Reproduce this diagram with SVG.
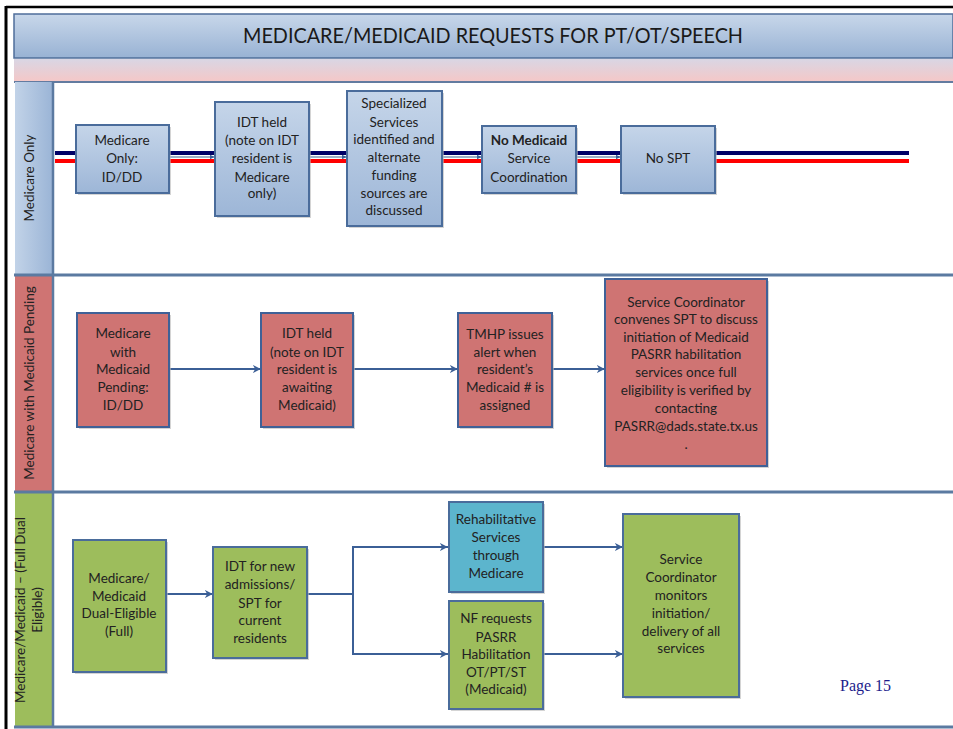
<svg xmlns="http://www.w3.org/2000/svg" width="953" height="729" viewBox="0 0 953 729">
<defs>
<linearGradient id="gTitle" x1="0" y1="0" x2="0" y2="1"><stop offset="0" stop-color="#c8d7ea"/><stop offset="1" stop-color="#98b2d4"/></linearGradient>
<linearGradient id="gPink" x1="0" y1="0" x2="0" y2="1"><stop offset="0" stop-color="#d9d6e4"/><stop offset="1" stop-color="#f4c8c8"/></linearGradient>
<linearGradient id="gBlueBox" x1="0" y1="0" x2="0" y2="1"><stop offset="0" stop-color="#c5d5e9"/><stop offset="1" stop-color="#9db6d7"/></linearGradient>
<linearGradient id="gHead1" x1="0" y1="0" x2="1" y2="0"><stop offset="0" stop-color="#c2d3e8"/><stop offset="1" stop-color="#9ab4d6"/></linearGradient>
<marker id="ah" viewBox="0 0 10 10" refX="9" refY="5" markerWidth="5" markerHeight="5" orient="auto" markerUnits="userSpaceOnUse"><path d="M0,0 L10,5 L0,10 z" fill="#3b5f96"/></marker>
<marker id="ah2" viewBox="0 0 10 10" refX="9" refY="5" markerWidth="8" markerHeight="8" orient="auto" markerUnits="userSpaceOnUse"><path d="M0,0 L10,5 L0,10 L3,5 z" fill="#3b5f96"/></marker>
</defs>
<style>
.t{font-family:Lato,"Open Sans","Liberation Sans",sans-serif;font-size:13.5px;fill:#222;text-anchor:middle}
.hd{font-family:Lato,"Open Sans","Liberation Sans",sans-serif;font-size:13.5px;fill:#222;text-anchor:middle}
.b1{fill:url(#gBlueBox);stroke:#4a6c9b;stroke-width:2}
.b2{fill:#cf7473;stroke:#3f6197;stroke-width:2}
.b3{fill:#9dbd5c;stroke:#4a6c9b;stroke-width:2}
.b4{fill:#5cb5cd;stroke:#4a6c9b;stroke-width:2}
.sh{fill:#b8b8b8;opacity:0.6}
.sep{stroke:#5b7aa1;stroke-width:3}
.c{stroke:#3b5f96;stroke-width:2;fill:none}
.c1{stroke:#9fb0c6;stroke-width:2;fill:none}
</style>
<rect x="0" y="0" width="953" height="729" fill="#ffffff"/>
<!-- outer border -->
<line x1="6" y1="7" x2="953" y2="7" stroke="#000" stroke-width="2.5"/>
<line x1="6" y1="6" x2="6" y2="729" stroke="#000" stroke-width="3"/>
<!-- title -->
<g id="title">
<rect x="14" y="14" width="939" height="44" fill="url(#gTitle)" stroke="#4f6e9a" stroke-width="1.5"/>
<text x="493" y="43" font-family="Lato,'Open Sans','Liberation Sans',sans-serif" font-size="21" fill="#1a1a1a" text-anchor="middle" textLength="500" lengthAdjust="spacingAndGlyphs">MEDICARE/MEDICAID REQUESTS FOR PT/OT/SPEECH</text>
</g>
<rect x="14" y="59" width="939" height="22" fill="url(#gPink)"/>
<line x1="14" y1="82" x2="953" y2="82" stroke="#2f4f80" stroke-width="1.5"/>
<!-- lanes -->
<g id="lane1">
<rect x="15" y="82" width="38" height="193" fill="url(#gHead1)"/>
<text class="hd" transform="translate(34,178) rotate(-90)">Medicare Only</text>
</g>
<g id="lane2">
<rect x="15" y="276" width="38" height="216" fill="#cf7473"/>
<text class="hd" transform="translate(34,383) rotate(-90)">Medicare with Medicaid Pending</text>
</g>
<g id="lane3">
<rect x="15" y="493" width="38" height="234" fill="#9dbd5c"/>
<text class="hd" transform="translate(30,610) rotate(-90)"><tspan x="0" y="-5">Medicare/Medicaid – (Full Dual</tspan><tspan x="0" y="12">Eligible)</tspan></text>
</g>
<line x1="53" y1="82" x2="53" y2="727" stroke="#5b7aa1" stroke-width="2.5"/>
<line class="sep" x1="14" y1="275" x2="953" y2="275"/>
<line class="sep" x1="14" y1="492" x2="953" y2="492"/>
<line class="sep" x1="14" y1="727" x2="953" y2="727"/>
<!-- lane 1 background lines -->
<line x1="55" y1="153" x2="909" y2="153" stroke="#000066" stroke-width="4"/>
<line x1="55" y1="161" x2="909" y2="161" stroke="#ff0000" stroke-width="4"/>
<!-- connectors -->
<g id="connectors">
<line class="c1" x1="169" y1="157" x2="214" y2="157" marker-end="url(#ah)"/>
<line class="c1" x1="309" y1="157" x2="346" y2="157" marker-end="url(#ah)"/>
<line class="c1" x1="442" y1="157" x2="481" y2="157" marker-end="url(#ah)"/>
<line class="c1" x1="576" y1="157" x2="620" y2="157" marker-end="url(#ah)"/>
<line class="c" x1="169" y1="369" x2="260" y2="369" marker-end="url(#ah2)"/>
<line class="c" x1="353" y1="369" x2="457" y2="369" marker-end="url(#ah2)"/>
<line class="c" x1="552" y1="369" x2="604" y2="369" marker-end="url(#ah2)"/>
<line class="c" x1="166" y1="594" x2="212" y2="594" marker-end="url(#ah2)"/>
<polyline class="c" points="307,594 353,594"/>
<polyline class="c" points="448,547 353,547 353,654 448,654"/>
<line class="c" x1="353" y1="547" x2="447" y2="547" marker-end="url(#ah2)"/>
<line class="c" x1="353" y1="654" x2="447" y2="654" marker-end="url(#ah2)"/>
<line class="c" x1="543" y1="547" x2="622" y2="547" marker-end="url(#ah2)"/>
<line class="c" x1="543" y1="654" x2="622" y2="654" marker-end="url(#ah2)"/>
</g>
<!-- lane 1 nodes -->
<g id="n1">
<rect class="sh" x="78" y="127" width="93" height="68"/>
<rect class="b1" x="76" y="125" width="93" height="68"/>
<text class="t"><tspan x="122" y="145">Medicare</tspan><tspan x="122" y="163">Only:</tspan><tspan x="122" y="182">ID/DD</tspan></text>
</g>
<g id="n2">
<rect class="sh" x="217" y="104" width="94" height="114"/>
<rect class="b1" x="215" y="102" width="94" height="114"/>
<text class="t"><tspan x="262" y="127">IDT held</tspan><tspan x="262" y="145">(note on IDT</tspan><tspan x="262" y="163">resident is</tspan><tspan x="262" y="182">Medicare</tspan><tspan x="262" y="198">only)</tspan></text>
</g>
<g id="n3">
<rect class="sh" x="349" y="93" width="95" height="135"/>
<rect class="b1" x="347" y="91" width="95" height="135"/>
<text class="t"><tspan x="394" y="108">Specialized</tspan><tspan x="394" y="127">Services</tspan><tspan x="394" y="144">identified and</tspan><tspan x="394" y="162">alternate</tspan><tspan x="394" y="180">funding</tspan><tspan x="394" y="198">sources are</tspan><tspan x="394" y="215">discussed</tspan></text>
</g>
<g id="n4">
<rect class="sh" x="484" y="128" width="94" height="67"/>
<rect class="b1" x="482" y="126" width="94" height="67"/>
<text class="t"><tspan x="529" y="145" font-weight="bold">No Medicaid</tspan><tspan x="529" y="163">Service</tspan><tspan x="529" y="182">Coordination</tspan></text>
</g>
<g id="n5">
<rect class="sh" x="623" y="128" width="94" height="67"/>
<rect class="b1" x="621" y="126" width="94" height="67"/>
<text class="t" x="668" y="163">No SPT</text>
</g>
<!-- lane 2 nodes -->
<g id="n6">
<rect class="sh" x="79" y="315" width="92" height="114"/>
<rect class="b2" x="77" y="313" width="92" height="114"/>
<text class="t"><tspan x="123" y="338">Medicare</tspan><tspan x="123" y="357">with</tspan><tspan x="123" y="374">Medicaid</tspan><tspan x="123" y="392">Pending:</tspan><tspan x="123" y="410">ID/DD</tspan></text>
</g>
<g id="n7">
<rect class="sh" x="263" y="315" width="92" height="114"/>
<rect class="b2" x="261" y="313" width="92" height="114"/>
<text class="t"><tspan x="307" y="338">IDT held</tspan><tspan x="307" y="357">(note on IDT</tspan><tspan x="307" y="374">resident is</tspan><tspan x="307" y="392">awaiting</tspan><tspan x="307" y="410">Medicaid)</tspan></text>
</g>
<g id="n8">
<rect class="sh" x="460" y="315" width="94" height="114"/>
<rect class="b2" x="458" y="313" width="94" height="114"/>
<text class="t"><tspan x="505" y="339">TMHP issues</tspan><tspan x="505" y="357">alert when</tspan><tspan x="505" y="374">resident’s</tspan><tspan x="505" y="392">Medicaid # is</tspan><tspan x="505" y="410">assigned</tspan></text>
</g>
<g id="n9">
<rect class="sh" x="607" y="281" width="162" height="187"/>
<rect class="b2" x="605" y="279" width="162" height="187"/>
<text class="t"><tspan x="686" y="307">Service Coordinator</tspan><tspan x="686" y="324">convenes SPT to discuss</tspan><tspan x="686" y="342">initiation of Medicaid</tspan><tspan x="686" y="359">PASRR habilitation</tspan><tspan x="686" y="377">services once full</tspan><tspan x="686" y="395">eligibility is verified by</tspan><tspan x="686" y="413">contacting</tspan><tspan x="686" y="431">PASRR@dads.state.tx.us</tspan><tspan x="686" y="449">.</tspan></text>
</g>
<!-- lane 3 nodes -->
<g id="n10">
<rect class="sh" x="75" y="542" width="93" height="132"/>
<rect class="b3" x="73" y="540" width="93" height="132"/>
<text class="t"><tspan x="119" y="583">Medicare/</tspan><tspan x="119" y="601">Medicaid</tspan><tspan x="119" y="618">Dual-Eligible</tspan><tspan x="119" y="636">(Full)</tspan></text>
</g>
<g id="n11">
<rect class="sh" x="215" y="549" width="94" height="111"/>
<rect class="b3" x="213" y="547" width="94" height="111"/>
<text class="t"><tspan x="260" y="571">IDT for new</tspan><tspan x="260" y="589">admissions/</tspan><tspan x="260" y="608">SPT for</tspan><tspan x="260" y="625">current</tspan><tspan x="260" y="643">residents</tspan></text>
</g>
<g id="n12">
<rect class="sh" x="451" y="504" width="94" height="90"/>
<rect class="b4" x="449" y="502" width="94" height="90"/>
<text class="t"><tspan x="496" y="524">Rehabilitative</tspan><tspan x="496" y="542">Services</tspan><tspan x="496" y="560">through</tspan><tspan x="496" y="578">Medicare</tspan></text>
</g>
<g id="n13">
<rect class="sh" x="451" y="603" width="94" height="108"/>
<rect class="b3" x="449" y="601" width="94" height="108"/>
<text class="t"><tspan x="496" y="623">NF requests</tspan><tspan x="496" y="642">PASRR</tspan><tspan x="496" y="659">Habilitation</tspan><tspan x="496" y="677">OT/PT/ST</tspan><tspan x="496" y="694">(Medicaid)</tspan></text>
</g>
<g id="n14">
<rect class="sh" x="625" y="516" width="116" height="183"/>
<rect class="b3" x="623" y="514" width="116" height="183"/>
<text class="t"><tspan x="681" y="564">Service</tspan><tspan x="681" y="582">Coordinator</tspan><tspan x="681" y="600">monitors</tspan><tspan x="681" y="618">initiation/</tspan><tspan x="681" y="636">delivery of all</tspan><tspan x="681" y="653">services</tspan></text>
</g>
<text x="840" y="691" font-family="'Liberation Serif','Times New Roman',serif" font-size="16" fill="#1c1c8c">Page 15</text>
</svg>
